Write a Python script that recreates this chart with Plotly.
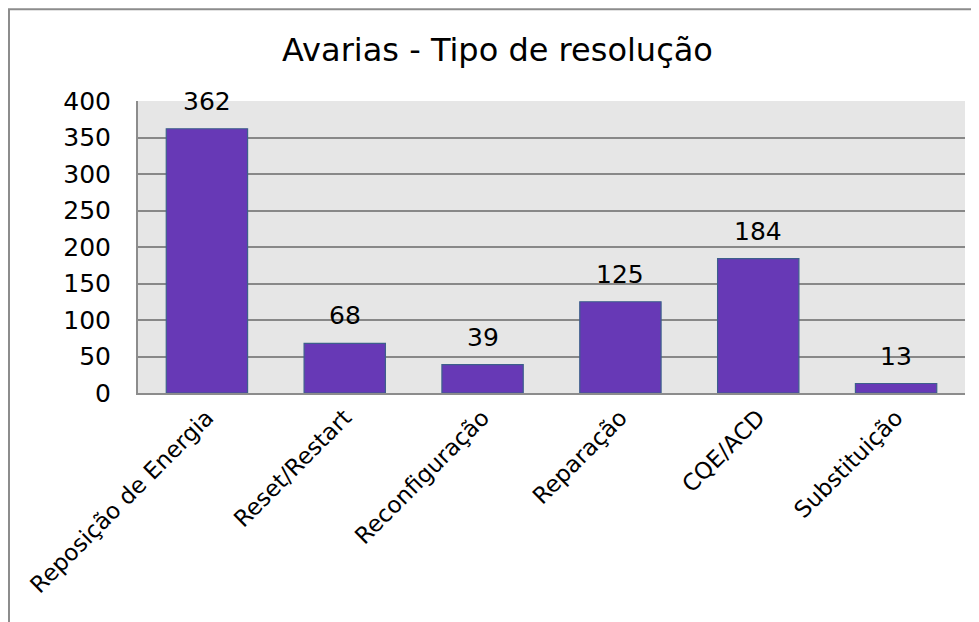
import plotly.graph_objects as go

categories = ['Reposição de Energia', 'Reset/Restart', 'Reconfiguração',
              'Reparação', 'CQE/ACD', 'Substituição']
values = [362, 68, 39, 125, 184, 13]
y_ticks = [0, 50, 100, 150, 200, 250, 300, 350, 400]

FONT = 'DejaVu Sans'

fig = go.Figure()
fig.add_trace(go.Bar(
    x=categories, y=values,
    marker=dict(color='#6739b6', line=dict(color='#3d5f8c', width=1.2)),
    width=0.59,
))

# value labels above each bar
for cat, val in zip(categories, values):
    fig.add_annotation(x=cat, y=val, text=str(val), showarrow=False,
                       yanchor='bottom', yshift=11,
                       font=dict(family=FONT, size=25, color='black'))

fig.update_layout(
    width=979, height=622,
    margin=dict(l=130, r=22, t=93, b=237),
    paper_bgcolor='white', plot_bgcolor='#e6e6e6',
    showlegend=False,
    font=dict(family=FONT, color='black'),
    title=dict(text='Avarias - Tipo de resolução', x=0.5, xanchor='center',
               y=1 - 42 / 622, yanchor='middle',
               font=dict(family=FONT, size=32, color='black')),
    # outer chart border (only left/top visible in the frame)
    shapes=[dict(type='rect', xref='paper', yref='paper',
                 x0=-0.156, x1=1.1, y0=-1.0, y1=1.314,
                 line=dict(color='#8c8c8c', width=2), layer='below')],
)
fig.update_xaxes(
    tickangle=-45, tickfont=dict(family=FONT, size=23),
    showline=True, linecolor='#8c8c8c', linewidth=2,
    showgrid=False, ticks='', fixedrange=True,
)
fig.update_yaxes(
    range=[0, 400], tickvals=y_ticks, tickfont=dict(family=FONT, size=25),
    showgrid=True, gridcolor='#888888', gridwidth=1.5,
    showline=True, linecolor='#8c8c8c', linewidth=2,
    zeroline=False, ticks='', ticklabelstandoff=20, fixedrange=True,
)

fig.write_html("out.html")
